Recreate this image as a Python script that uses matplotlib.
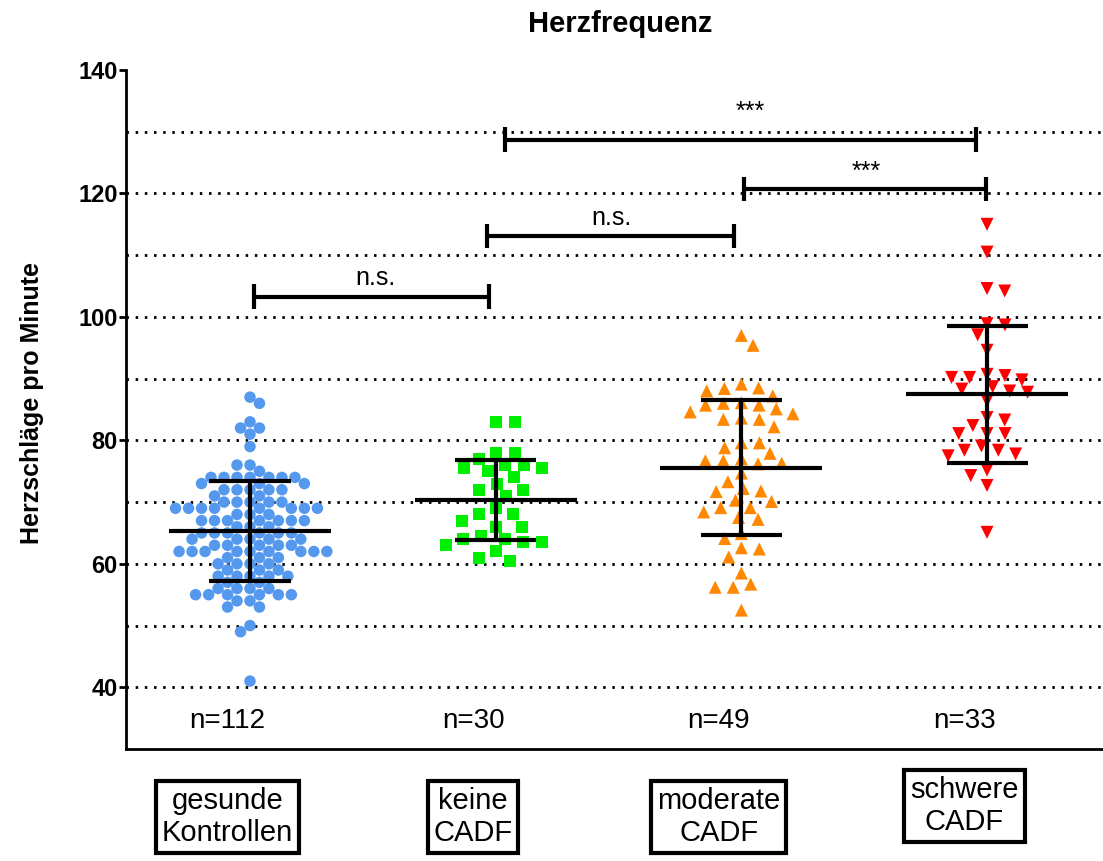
import numpy as np
import matplotlib
matplotlib.use("Agg")
import matplotlib.pyplot as plt
from matplotlib.transforms import blended_transform_factory

plt.rcParams["font.family"] = ["Liberation Sans", "DejaVu Sans"]

# heart rate per subject, beats per minute
kontrollen = [
    87, 86, 83, 82, 82, 81, 79, 76, 76, 75,
    74, 74, 74, 74, 74, 74, 74,
    73, 73, 73,
    72, 72, 72, 72, 72,
    71, 71,
    70, 70, 70, 70, 70,
    69, 69, 69, 69, 69, 69, 69, 69,
    68, 68, 68,
    67, 67, 67, 67, 67, 67, 67,
    66, 66, 66,
    65, 65, 65, 65, 65, 65,
    64, 64, 64, 64, 64,
    63, 63, 63, 63, 63,
    62, 62, 62, 62, 62, 62, 62, 62, 62,
    61, 61, 61,
    60, 60, 60, 60,
    59, 59, 59,
    58, 58, 58, 58, 58,
    57, 57,
    56, 56, 56, 56,
    55, 55, 55, 55, 55, 55,
    54, 54,
    53, 53,
    50, 49, 41,
]
keine_cadf = [
    83, 83, 78, 78, 77, 76, 76, 75.5, 75, 75.5,
    74, 73, 72, 72, 71, 69, 68, 67, 68, 66,
    66, 64, 64, 64.5, 63.5, 63.5, 62, 63, 60.5, 61,
]
moderate_cadf = [
    97.0, 95.4, 88.5, 88.0, 89.1, 88.4, 87.2, 86.1, 85.7, 85.7,
    86.0, 85.1, 84.3, 84.6, 83.4, 83.4, 83.6, 82.2, 79.6, 79.6,
    78.8, 77.9, 76.7, 76.3, 76.2, 76.7, 77.0, 74.7, 73.3, 71.8,
    71.7, 72.2, 70.1, 70.3, 69.1, 69.1, 68.4, 67.5, 67.2, 64.9,
    64.1, 62.6, 62.4, 61.1, 58.5, 56.2, 56.2, 56.7, 52.5,
]
schwere_cadf = [
    115.0, 110.5, 104.2, 104.6, 98.9, 98.7, 97.1, 94.6, 90.5, 90.2,
    89.8, 90.2, 90.7, 88.7, 88.0, 87.8, 88.3, 86.4, 83.7, 82.4,
    83.3, 81.1, 81.1, 81.1, 79.1, 78.4, 77.5, 77.8, 78.4, 75.2,
    74.3, 72.7, 65.1,
]

group_names = ["gesunde\nKontrollen", "keine\nCADF", "moderate\nCADF", "schwere\nCADF"]
group_values = [kontrollen, keine_cadf, moderate_cadf, schwere_cadf]
group_counts = ["n=112", "n=30", "n=49", "n=33"]

# pairwise comparisons: (group a, group b, label)
comparisons = [(0, 1, "n.s."), (1, 2, "n.s."), (1, 3, "***"), (2, 3, "***")]

colors = ["#5599ee", "#00ee00", "#ff8800", "#ff0000"]
markers = ["o", "s", "^", "v"]
marker_px = [11.5, 12, 13, 13]
# swarm spacing in px: horizontal and vertical radius of the keep-out ellipse
swarm_sx = [13, 19, 18, 18]
swarm_sy = [9, 14, 13, 13]

# bracket layout: y level, x end adjustments, text position and lift
bracket_y = [103.3, 113.1, 128.7, 120.7]
bracket_dx = [(0.016, -0.027), (-0.035, -0.03), (0.038, -0.045), (0.01, -0.004)]
bracket_text_x = [1.51, 2.47, 3.035, 3.51]
bracket_text_lift = [1.0, 1.0, 2.5, 0.8]


def swarm_offsets(values, y_scale, sx, sy):
    """Greedy beeswarm with an elliptical keep-out zone; offsets in px."""
    vals = np.asarray(values, dtype=float)
    order = np.argsort(-vals, kind="stable")
    placed = []
    offsets = np.zeros(len(vals))
    for k, i in enumerate(order):
        y = vals[i] * y_scale
        near = [(qx, qy) for qx, qy in placed if abs(qy - y) < sy]
        cands = [0.0]
        for qx, qy in near:
            dx = sx * np.sqrt(1.0 - ((qy - y) / sy) ** 2)
            cands += [qx - dx, qx + dx]
        side = 1 if k % 2 == 0 else -1
        cands.sort(key=lambda c: (round(abs(c), 3), side * c))
        for c in cands:
            if all(((c - qx) / sx) ** 2 + ((y - qy) / sy) ** 2 >= 1 - 1e-6 for qx, qy in near):
                offsets[i] = c
                break
        placed.append((offsets[i], y))
    return offsets


fig = plt.figure(figsize=(11.03, 8.61), dpi=100)
ax = fig.add_axes([126 / 1103, 1 - 749 / 861, 977 / 1103, 679 / 861])
ax.set_xlim(0.4953, 4.472)
ax.set_ylim(30, 140)

x_px_per_unit = 977 / (4.472 - 0.4953)
y_px_per_unit = 679 / (140 - 30)
px_to_pt = 72 / fig.dpi

for y in range(40, 140, 10):
    ax.axhline(y, color="black", lw=2.0, ls=(0, (0.9, 2.4)), zorder=1)

positions = np.arange(1, len(group_values) + 1)
for g, (pos, vals) in enumerate(zip(positions, group_values)):
    vals = np.asarray(vals, dtype=float)
    offs = swarm_offsets(vals, y_px_per_unit, swarm_sx[g], swarm_sy[g]) / x_px_per_unit
    ax.scatter(pos + offs, vals, s=(marker_px[g] * px_to_pt) ** 2, marker=markers[g],
               color=colors[g], edgecolors="none", zorder=3)
    mean = vals.mean()
    sd = vals.std(ddof=1)
    ax.plot([pos - 0.33, pos + 0.33], [mean, mean], color="black", lw=3, zorder=4,
            solid_capstyle="butt")
    ax.plot([pos, pos], [mean - sd, mean + sd], color="black", lw=3, zorder=4,
            solid_capstyle="butt")
    for yy in (mean - sd, mean + sd):
        ax.plot([pos - 0.165, pos + 0.165], [yy, yy], color="black", lw=3, zorder=4,
                solid_capstyle="butt")

for (a, b, label), yb, (d0, d1), tx, lift in zip(comparisons, bracket_y, bracket_dx,
                                                 bracket_text_x, bracket_text_lift):
    x0 = positions[a] + d0
    x1 = positions[b] + d1
    ax.plot([x0, x1], [yb, yb], color="black", lw=3, solid_capstyle="butt", zorder=5)
    for xe in (x0, x1):
        ax.plot([xe, xe], [yb - 2.0, yb + 2.0], color="black", lw=3,
                solid_capstyle="butt", zorder=5)
    ax.text(tx, yb + lift, label, ha="center", va="bottom", fontsize=18, zorder=6)

label_shift = -0.092
for pos, cnt in zip(positions, group_counts):
    ax.text(pos + label_shift, 34.5, cnt, ha="center", va="center", fontsize=20)

trans = blended_transform_factory(ax.transData, ax.transAxes)
box_y = [-0.1, -0.1, -0.1, -0.084]
for pos, name, by in zip(positions, group_names, box_y):
    ax.text(pos + label_shift, by, name, transform=trans, ha="center", va="center",
            fontsize=21, linespacing=1.2, clip_on=False,
            bbox=dict(boxstyle="square,pad=0.2", fc="white", ec="black", lw=3))

ax.spines["top"].set_visible(False)
ax.spines["right"].set_visible(False)
ax.spines["left"].set_linewidth(2)
ax.spines["bottom"].set_linewidth(2)
ax.set_xticks([])
ax.set_yticks(range(40, 141, 20))
ax.tick_params(axis="y", length=5, width=2, pad=1, labelsize=17)
for lbl in ax.get_yticklabels():
    lbl.set_fontweight("bold")

ax.set_ylabel("Herzschläge pro Minute", fontsize=18, fontweight="bold")
ax.yaxis.set_label_coords(-0.084, 0.51)

fig.text(620 / 1103, 1 - 24 / 861, "Herzfrequenz", ha="center", va="center",
         fontsize=21, fontweight="bold")

fig.savefig("out.png", dpi=100)
